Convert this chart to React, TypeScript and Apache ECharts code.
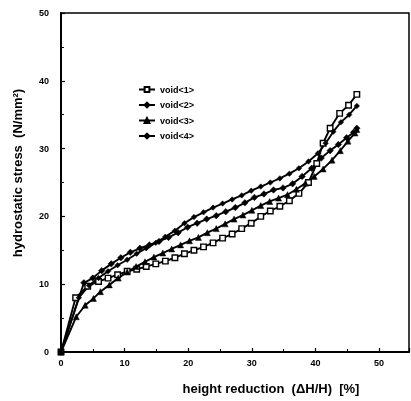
import React, { useEffect, useRef } from "react";
import * as echarts from "echarts";

const seriesNames = ["void<1>", "void<2>", "void<3>", "void<4>"];

const void1: [number, number][] = [
  [0, 0], [2.3, 8.0], [4.2, 9.7], [5.9, 10.4], [7.4, 10.9], [8.9, 11.4], [10.4, 11.9], [11.9, 12.2],
  [13.4, 12.6], [14.9, 13.0], [16.4, 13.4], [17.9, 13.9], [19.4, 14.5], [20.9, 15.0], [22.4, 15.5],
  [23.9, 16.1], [25.4, 16.8], [26.9, 17.4], [28.4, 18.2], [29.9, 19.0], [31.4, 20.0], [32.9, 20.8],
  [34.4, 21.5], [35.9, 22.3], [37.4, 23.4], [38.9, 25.0], [40.2, 27.8], [41.2, 30.8], [42.3, 33.0],
  [43.8, 35.2], [45.2, 36.4], [46.5, 38.0],
];

const void2: [number, number][] = [
  [0, 0], [2.8, 8.0], [4.4, 9.8], [5.9, 10.9], [7.4, 11.9], [8.9, 12.8], [10.4, 13.6], [11.9, 14.5],
  [13.4, 15.3], [14.9, 16.1], [16.4, 17.0], [17.9, 17.9], [19.4, 19.0], [20.9, 19.9], [22.4, 20.6],
  [23.9, 21.3], [25.4, 21.9], [26.9, 22.5], [28.4, 23.1], [29.9, 23.8], [31.4, 24.4], [32.9, 25.0],
  [34.4, 25.6], [35.9, 26.3], [37.4, 27.1], [38.9, 28.1], [40.4, 29.3], [41.6, 30.8], [42.8, 32.5],
  [44.0, 33.9], [45.3, 35.0], [46.5, 36.3],
];

const void3: [number, number][] = [
  [0, 0], [2.4, 5.2], [3.8, 6.9], [5.1, 7.9], [6.2, 8.9], [7.6, 9.9], [9.0, 10.9], [10.4, 11.8],
  [11.8, 12.6], [13.2, 13.3], [14.6, 14.0], [16.0, 14.6], [17.4, 15.2], [18.8, 15.8], [20.2, 16.4],
  [21.6, 16.9], [23.0, 17.6], [24.4, 18.2], [25.8, 18.9], [27.2, 19.6], [28.6, 20.2], [30.0, 20.9],
  [31.4, 21.6], [32.8, 22.2], [34.2, 22.7], [35.6, 23.2], [37.0, 24.0], [38.4, 24.9], [39.8, 25.9],
  [41.2, 27.0], [42.6, 28.3], [43.9, 29.7], [45.1, 31.1], [46.2, 32.3], [46.5, 32.8],
];

const void4: [number, number][] = [
  [0, 0], [3.6, 10.2], [5.0, 10.9], [6.4, 12.0], [7.9, 13.0], [9.4, 13.9], [10.9, 14.7], [12.4, 15.3],
  [13.9, 15.8], [15.4, 16.3], [16.9, 16.9], [18.4, 17.6], [19.9, 18.4], [21.4, 19.0], [22.9, 19.6],
  [24.4, 20.1], [25.9, 20.7], [27.4, 21.3], [28.9, 22.0], [30.4, 22.8], [31.9, 23.3], [33.4, 23.9],
  [34.9, 24.2], [36.4, 24.8], [37.9, 25.9], [39.4, 27.1], [40.9, 28.6], [42.3, 29.7], [43.6, 30.6],
  [44.9, 31.6], [46.0, 32.4], [46.5, 33.0],
];

const xAxisTitle = "height reduction  (\u0394H/H)  [%]";
const yAxisTitle = "hydrostatic stress  (N/mm\u00B2)";

export default function App() {
  const ref = useRef<HTMLDivElement>(null);
  useEffect(() => {
    const chart = echarts.init(ref.current!, null, { renderer: "svg" });
    const font = "Arial, 'Liberation Sans', sans-serif";
    const mk = (name: string, data: [number, number][], symbol: string, size: number, open: boolean) => ({
      name,
      type: "line",
      data,
      symbol,
      symbolSize: size,
      showAllSymbol: true,
      lineStyle: { color: "#000", width: 1.9 },
      itemStyle: open
        ? { color: "#fff", borderColor: "#000", borderWidth: 1.4 }
        : { color: "#000", borderColor: "#000", borderWidth: 0.5 },
      emphasis: { disabled: true },
    });
    chart.setOption({
      animation: false,
      grid: { left: 61, top: 13, width: 348, height: 339, show: true, borderColor: "#000", borderWidth: 1.5, backgroundColor: "transparent" },
      legend: {
        orient: "vertical",
        left: 133,
        top: 80,
        itemWidth: 16,
        itemHeight: 6,
        itemGap: 6.5,
        data: seriesNames,
        textStyle: { fontFamily: font, fontWeight: "bold", fontSize: 9, color: "#000" },
      },
      xAxis: {
        type: "value",
        min: 0,
        max: 54.7,
        interval: 10,
        axisLine: { lineStyle: { color: "#000", width: 2 } },
        axisTick: { inside: true, length: 4, lineStyle: { color: "#000", width: 1.2 } },
        minorTick: { show: true, splitNumber: 2, length: 3, lineStyle: { color: "#000", width: 1 } },
        splitLine: { show: false },
        axisLabel: { color: "#000", fontFamily: font, fontWeight: "bold", fontSize: 9, margin: 6, showMaxLabel: false },
      },
      yAxis: {
        type: "value",
        min: 0,
        max: 50,
        interval: 10,
        axisLine: { lineStyle: { color: "#000", width: 2 } },
        axisTick: { inside: true, length: 4, lineStyle: { color: "#000", width: 1.2 } },
        minorTick: { show: true, splitNumber: 2, length: 3, lineStyle: { color: "#000", width: 1 } },
        splitLine: { show: false },
        axisLabel: { color: "#000", fontFamily: font, fontWeight: "bold", fontSize: 9, margin: 12 },
      },
      series: [
        mk(seriesNames[0], void1, "rect", 5.5, true),
        mk(seriesNames[1], void2, "diamond", 5.5, false),
        mk(seriesNames[2], void3, "triangle", 6, false),
        mk(seriesNames[3], void4, "diamond", 6.5, false),
      ],
      graphic: [
        {
          type: "text",
          x: 271,
          y: 388,
          style: { text: xAxisTitle, font: `bold 13px ${font}`, fill: "#000", textAlign: "center", textVerticalAlign: "middle" },
        },
        {
          type: "text",
          x: 17,
          y: 173,
          rotation: Math.PI / 2,
          style: { text: yAxisTitle, font: `bold 13px ${font}`, fill: "#000", textAlign: "center", textVerticalAlign: "middle" },
        },
      ],
    });
    return () => chart.dispose();
  }, []);
  return <div ref={ref} style={{ position: "fixed", left: 0, top: 0, width: 411, height: 401 }} />;
}
